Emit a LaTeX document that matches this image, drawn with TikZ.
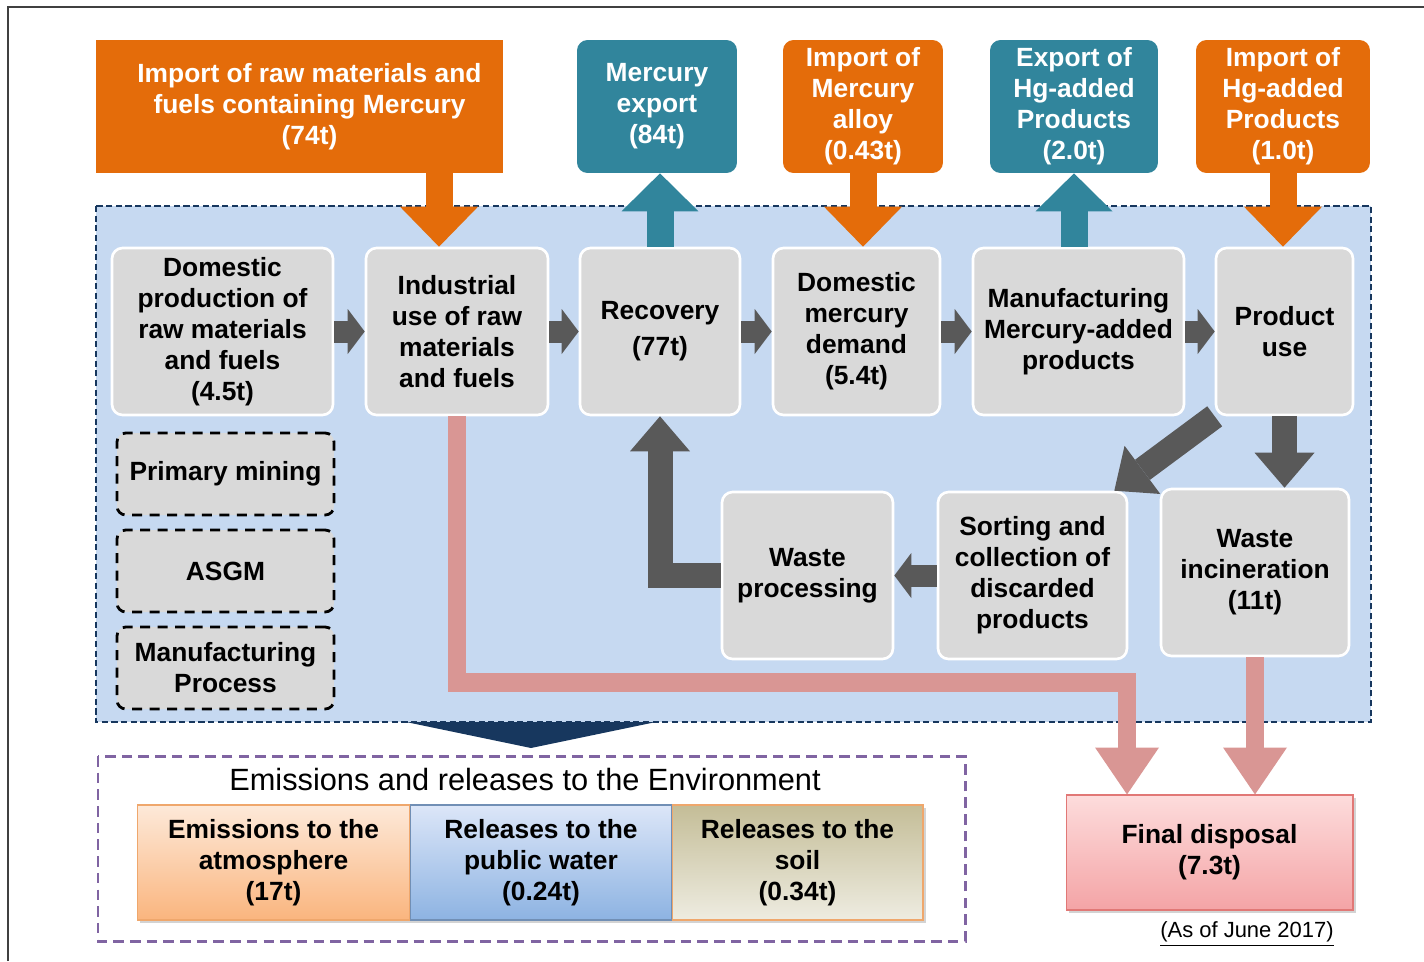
\documentclass[tikz,border=0pt]{standalone}
\usepackage{fontspec}
\setmainfont{Liberation Sans}
\usetikzlibrary{arrows.meta,calc,shadows}

\definecolor{HgOrange}{HTML}{E46C0A}
\definecolor{HgTeal}{HTML}{31859C}
\definecolor{HgArrow}{HTML}{595959}
\definecolor{HgPink}{HTML}{D99694}
\definecolor{HgRegion}{HTML}{C6D9F1}
\definecolor{HgNavy}{HTML}{17375E}
\definecolor{HgBox}{HTML}{D9D9D9}
\definecolor{HgPurple}{HTML}{8064A2}
\definecolor{HgFrame}{HTML}{404040}
\definecolor{AtmTop}{HTML}{FDE9D9}
\definecolor{AtmBot}{HTML}{FAB57E}
\definecolor{WatTop}{HTML}{DCE6F8}
\definecolor{WatBot}{HTML}{8DB3E2}
\definecolor{SoilTop}{HTML}{C4BD97}
\definecolor{SoilBot}{HTML}{EEECE1}
\definecolor{DispTop}{HTML}{FDDCDC}
\definecolor{DispBot}{HTML}{F4A4A6}

\tikzset{
    boxfont/.style={font=\fontsize{15}{17.6}\selectfont\bfseries},
    flowbox/.style={boxfont, fill=HgBox, draw=white, line width=1.5pt,
        rounded corners=6pt, align=center, inner sep=0pt,
        minimum height=3.34cm, minimum width=#1},
    topbox/.style={boxfont, text=white, align=center, inner sep=0pt,
        rounded corners=6pt, minimum height=2.66cm, minimum width=#1},
    importbox/.style={topbox=#1, fill=HgOrange},
    exportbox/.style={topbox=#1, fill=HgTeal},
    dashbox/.style={boxfont, fill=HgBox, draw=black, line width=1.6pt,
        dash pattern=on 0.2cm off 0.15cm, rounded corners=5pt,
        align=center, inner sep=0pt, minimum width=4.34cm, minimum height=1.64cm},
    releasebox/.style={boxfont, align=center, inner sep=0pt, line width=0.6pt,
        minimum height=2.3cm, minimum width=#1,
        drop shadow={shadow xshift=1.5pt, shadow yshift=-1.5pt, opacity=0.35}},
    region/.style={fill=HgRegion, draw=HgNavy, line width=0.8pt,
        dash pattern=on 3.5pt off 2pt},
    envframe/.style={draw=HgPurple, line width=1.7pt, dash pattern=on 6pt off 3.5pt},
    flowarrow/.style={draw=HgArrow, line width=0.44cm,
        -{Triangle[width=0.9cm, length=0.34cm, line width=0pt]}},
    wastearrow/.style={draw=HgArrow, line width=0.5cm,
        -{Triangle[width=1.2cm, length=0.7cm, line width=0pt]}},
    importarrow/.style={draw=HgOrange, line width=0.54cm,
        -{Triangle[width=1.56cm, length=0.8cm, line width=0pt]}},
    exportarrow/.style={draw=HgTeal, line width=0.54cm,
        -{Triangle[width=1.54cm, length=0.76cm, line width=0pt]}},
    disposalarrow/.style={draw=HgPink, line width=0.37cm,
        -{Triangle[width=1.28cm, length=0.94cm, line width=0pt]}}
}

\begin{document}
\begin{tikzpicture}[x=0.02cm, y=-0.02cm]
    \useasboundingbox (0,0) rectangle (1424,961);
    \draw [HgFrame, line width=1.2pt] (8,961) -- (8,7) -- (1424,7);% Page frame

    \draw [region] (96,206) rectangle (1371,722);% Domestic flow area
    \fill [HgNavy] (406,722) -- (656,722) -- (531,748) -- cycle;
    \draw [envframe] (98,756) rectangle (965,941);

    % Imports and exports
    \node[importbox=8.14cm, sharp corners] (ImpRaw) at (299.5,106.5)
        {\hspace*{0.4cm}Import of raw materials and\\\hspace*{0.4cm}fuels containing Mercury\\\hspace*{0.4cm}(74t)};
    \node[exportbox=3.2cm] (HgExport) at (657,106.5) {Mercury\\export\\(84t)};
    \node[importbox=3.2cm] (ImpAlloy) at (863,106.5) {Import of\\Mercury\\alloy\\(0.43t)};
    \node[exportbox=3.36cm] (ExpProd) at (1074,106.5) {Export of\\Hg-added\\Products\\(2.0t)};
    \node[importbox=3.48cm] (ImpProd) at (1283,106.5) {Import of\\Hg-added\\Products\\(1.0t)};

    % Main chain
    \node[flowbox=4.42cm] (DomProd) at (222.5,331.5)
        {Domestic\\production of\\raw materials\\and fuels\\(4.5t)};
    \node[flowbox=3.64cm] (IndUse) at (457,331.5) {Industrial\\use of raw\\materials\\and fuels};
    \node[flowbox=3.2cm] (Recovery) at (660,331.5) {Recovery\\[3pt](77t)};
    \node[flowbox=3.34cm] (DomDemand) at (856.5,331.5) {Domestic\\mercury\\demand\\(5.4t)};
    \node[flowbox=4.22cm] (MfgProd) at (1078.5,331.5) {Manufacturing\\Mercury-added\\products};
    \node[flowbox=2.74cm] (ProdUse) at (1284.5,331.5) {Product\\use};

    \node[dashbox] (Mining) at (225.5,474) {Primary mining};
    \node[dashbox] (ASGM) at (225.5,571) {ASGM};
    \node[dashbox] (MfgProc) at (225.5,668) {Manufacturing\\Process};

    % Waste side
    \node[flowbox=3.42cm] (WasteProc) at (807.5,575.5) {Waste\\processing};
    \node[flowbox=3.78cm] (Sorting) at (1032.5,575.5)
        {Sorting and\\collection of\\discarded\\products};
    \node[flowbox=3.76cm] (Incin) at (1255,572.5) {Waste\\incineration\\(11t)};

    % Releases
    \node[font=\fontsize{17.5}{20}\selectfont] (EnvTitle) at (525,779)
        {Emissions and releases to the Environment};
    \node[releasebox=5.46cm, draw=HgOrange!60, top color=AtmTop, bottom color=AtmBot]
        (Atmos) at (273.5,862.5) {Emissions to the\\atmosphere\\(17t)};
    \node[releasebox=5.24cm, draw=WatBot!80!black, top color=WatTop, bottom color=WatBot]
        (Water) at (541,862.5) {Releases to the\\public water\\(0.24t)};
    \node[releasebox=5.02cm, draw=HgOrange!60, top color=SoilTop, bottom color=SoilBot]
        (Soil) at (797.5,862.5) {Releases to the\\soil\\(0.34t)};
    \node[releasebox=5.74cm, draw=HgPink!80!red, top color=DispTop, bottom color=DispBot]
        (Disposal) at (1209.5,852.5) {Final disposal\\(7.3t)};
    \node[font=\fontsize{12.5}{15}\selectfont] (AsOf) at (1247,934)
        {\underline{(As of June 2017)}};

    % Connectors
    \coordinate (RawIn) at ([xshift=-0.36cm]IndUse.north);
    \draw [importarrow] (ImpRaw.south -| RawIn) -- (RawIn);
    \draw [exportarrow] (Recovery.north) -- (Recovery.north |- HgExport.south);
    \draw [importarrow] (ImpAlloy.south) -- (ImpAlloy.south |- DomDemand.north);
    \draw [exportarrow] (ExpProd.south |- MfgProd.north) -- (ExpProd.south);
    \draw [importarrow] (ImpProd.south) -- (ImpProd.south |- ProdUse.north);

    \foreach \a/\b in {DomProd/IndUse, IndUse/Recovery, Recovery/DomDemand,
        DomDemand/MfgProd, MfgProd/ProdUse, Sorting/WasteProc}{
        \draw [flowarrow] (\a) -- (\b);
    }
    \draw [wastearrow] (ProdUse.south) -- (ProdUse.south |- Incin.north);
    \draw [wastearrow] (ProdUse.south west) -- ([xshift=-0.28cm]Sorting.north east);
    \draw [wastearrow] (WasteProc.west) -| (Recovery.south);

    \coordinate (DispIn) at ([xshift=-1.65cm]Disposal.north);
    \draw [disposalarrow] (IndUse.south) -- ++(0,266) -| (DispIn);
    \draw [disposalarrow] (Incin.south) -- (Incin.south |- Disposal.north);
\end{tikzpicture}
\end{document}
